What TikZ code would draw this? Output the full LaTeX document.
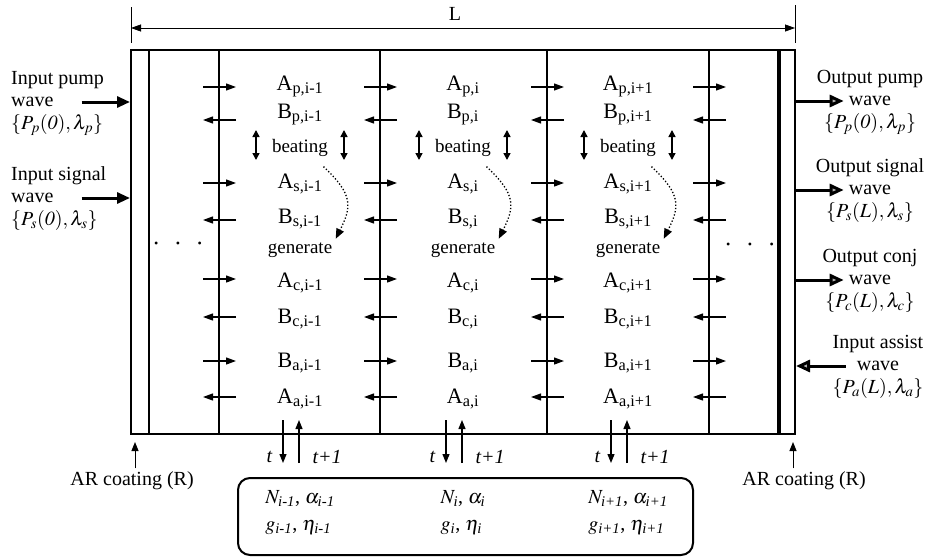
\documentclass[tikz,border=0pt]{standalone}
\usepackage{amsmath}
\usepackage{mathptmx}
\usepackage{fontspec}
\setmainfont{Liberation Serif}
\usepackage{tikz}
\usetikzlibrary{arrows.meta,positioning}

\begin{document}
\begin{tikzpicture}[x=1pt, y=-1pt,
    font=\fontsize{20}{22}\selectfont,
    lbl/.style={anchor=base, font=\fontsize{22}{24}\selectfont},
    note/.style={anchor=base, font=\fontsize{19}{22}\selectfont},
    sidetext/.style={inner sep=1pt, text height=14pt, text depth=5pt},
    parcol/.style={align=left, font=\fontsize{20}{27}\selectfont},
    dotrow/.style={font=\fontsize{28}{30}\selectfont},
    frame/.style={draw, line width=2pt, minimum width=664pt, minimum height=384pt, inner sep=0pt},
    parambox/.style={draw, line width=2pt, rounded corners=12pt, minimum width=455pt, minimum height=77pt, inner sep=0pt},
    facet/.style={line width=1.5pt},
    dimline/.style={{Triangle[length=10pt, width=7pt]}-{Triangle[length=10pt, width=7pt]}, line width=0.8pt},
    flow/.style={-{Triangle[length=10pt, width=7pt]}, line width=1.2pt},
    beat/.style={{Triangle[length=7pt, width=7pt]}-{Triangle[length=7pt, width=7pt]}, line width=1.5pt},
    gen/.style={-{Triangle[length=10pt, width=8pt]}, dotted, line width=1.3pt},
    tarrow/.style={-{Triangle[length=9pt, width=7pt]}, line width=1.2pt},
    arpointer/.style={-{Triangle[length=9pt, width=7pt]}, line width=1pt},
    inarrow/.style={-{Triangle[length=13pt, width=11pt]}, line width=3pt},
    outarrow/.style={-{Triangle[length=14pt, width=12pt, fill=gray!60]}, line width=3pt}
]
\useasboundingbox (0,0) rectangle (930,557);
\node[frame] (cav) at (463,242) {};
\draw[facet] (149,50) -- (149,434);
\draw[facet] (219,50) -- (219,434);
\draw[facet] (380,50) -- (380,434);
\draw[facet] (547,50) -- (547,434);
\draw[facet] (709,50) -- (709,434);
\draw[line width=4pt] (779,50) -- (779,434);
\draw[line width=0.8pt] (131,7) -- (131,43);
\draw[line width=0.8pt] (795,5) -- (795,43);
\draw[dimline] (131,28) -- (795,28);
\node (len) at (455,14) {L};
\node[dotrow] (dotsl) at (178,244) {$\cdot$\enspace$\cdot$\enspace$\cdot$};
\node[dotrow] (dotsr) at (750,245) {$\cdot$\enspace$\cdot$\enspace$\cdot$};
\foreach \fx in {219,380,547,709} {
  \foreach \y in {87,183,279,361} \draw[flow] (\fx-16,\y) -- (\fx+17,\y);
  \foreach \y in {120,220,317,397} \draw[flow] (\fx+17,\y) -- (\fx-16,\y);
}
\node[parambox] (params) at (465.5,516.5) {};
\foreach \cx/\s/\n in {300/i-1/m, 463/i/c, 628/i+1/p} {
  \node[lbl] (ap\n) at (\cx,90) {A\textsubscript{p,\s}};
  \node[lbl] (bp\n) at (\cx,118) {B\textsubscript{p,\s}};
  \node[note] (beat\n) at (\cx,152) {beating};
  \node[lbl] (as\n) at (\cx,188) {A\textsubscript{s,\s}};
  \node[lbl] (bs\n) at (\cx,223) {B\textsubscript{s,\s}};
  \node[note] (gen\n) at (\cx,253) {generate};
  \node[lbl] (ac\n) at (\cx,287) {A\textsubscript{c,\s}};
  \node[lbl] (bc\n) at (\cx,323) {B\textsubscript{c,\s}};
  \node[lbl] (ba\n) at (\cx,367) {B\textsubscript{a,\s}};
  \node[lbl] (aa\n) at (\cx,403) {A\textsubscript{a,\s}};
  \draw[beat] (\cx-44,130) -- (\cx-44,160);
  \draw[beat] (\cx+44,130) -- (\cx+44,160);
  \draw[gen] ([shift={(-8pt,-7pt)}]beat\n.south east) .. controls +(30,28) and +(16,-32) .. (gen\n.north east);
  \draw[tarrow] (\cx-17,420) -- (\cx-17,463);
  \draw[tarrow] (\cx-1,463) -- (\cx-1,420);
  \node[anchor=east] (t\n) at (\cx-24,457) {\textit{t}};
  \node[anchor=west] (tn\n) at (\cx+9,457) {\textit{t+1}};
  \node[parcol] (par\n) at (\cx,513) {$N_{\textit{\s}}$, $\alpha_{\textit{\s}}$\\$g_{\textit{\s}}$, $\eta_{\textit{\s}}$};
}
\node[sidetext, anchor=west] (pumpin) at (10,102) {wave};
\node[sidetext, above=1pt of pumpin.north west, anchor=south west] (pumpinhead) {Input pump};
\node[sidetext, below=2pt of pumpin.south west, anchor=north west] (pumpinval) {$\{P_p(\mathit{0}),\lambda_p\}$};
\node[sidetext, anchor=west] (signalin) at (10,198) {wave};
\node[sidetext, above=1pt of signalin.north west, anchor=south west] (signalinhead) {Input signal};
\node[sidetext, below=2pt of signalin.south west, anchor=north west] (signalinval) {$\{P_s(\mathit{0}),\lambda_s\}$};
\draw[inarrow] ([xshift=27pt]pumpin.east) -- (pumpin.east -| cav.west);
\draw[inarrow] ([xshift=27pt]signalin.east) -- (signalin.east -| cav.west);
\node[sidetext] (pumpout) at (870,101) {wave};
\node[sidetext, above=1pt of pumpout] (pumpouthead) {Output pump};
\node[sidetext, below=2pt of pumpout] (pumpoutval) {$\{P_p(\mathit{0}),\lambda_p\}$};
\node[sidetext] (signalout) at (870,190) {wave};
\node[sidetext, above=1pt of signalout] (signalouthead) {Output signal};
\node[sidetext, below=2pt of signalout] (signaloutval) {$\{P_s(L),\lambda_s\}$};
\node[sidetext] (conjout) at (870,280) {wave};
\node[sidetext, above=1pt of conjout] (conjouthead) {Output conj};
\node[sidetext, below=2pt of conjout] (conjoutval) {$\{P_c(L),\lambda_c\}$};
\node[sidetext] (assistin) at (878,366) {wave};
\node[sidetext, above=1pt of assistin] (assistinhead) {Input assist};
\node[sidetext, below=2pt of assistin] (assistinval) {$\{P_a(L),\lambda_a\}$};
\draw[outarrow] (pumpout.west -| cav.east) -- ([xshift=-4pt]pumpout.west);
\draw[outarrow] (signalout.west -| cav.east) -- ([xshift=-4pt]signalout.west);
\draw[outarrow] (conjout.west -| cav.east) -- ([xshift=-4pt]conjout.west);
\draw[outarrow] ([xshift=-10pt]assistin.west) -- (assistin.west -| cav.east);
\node (arl) at (132,481) {AR coating (R)};
\node (arr) at (804,481) {AR coating (R)};
\coordinate (arlpt) at (135,442);
\coordinate (arrpt) at (793,442);
\draw[arpointer] (arlpt |- arl.north) -- (arlpt);
\draw[arpointer] (arrpt |- arr.north) -- (arrpt);
\end{tikzpicture}
\end{document}
